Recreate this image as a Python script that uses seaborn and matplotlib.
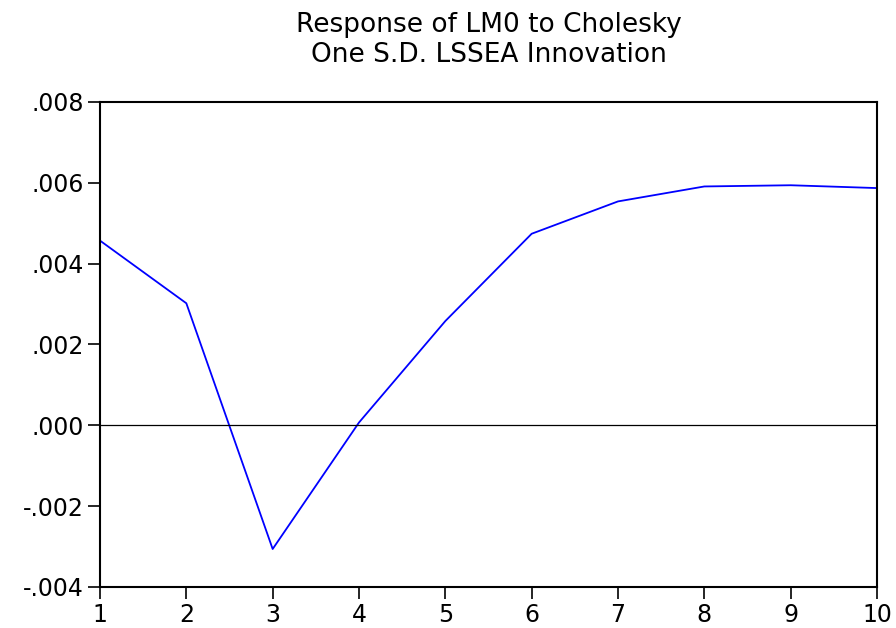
import matplotlib
matplotlib.use("Agg")
import matplotlib.pyplot as plt
import seaborn as sns
import pandas as pd

periods = [1, 2, 3, 4, 5, 6, 7, 8, 9, 10]
response = [0.00457, 0.00302, -0.00306, 0.00007, 0.00258, 0.00474, 0.00554, 0.00591, 0.00594, 0.00587]
yticks = [-0.004, -0.002, 0.000, 0.002, 0.004, 0.006, 0.008]
ytick_labels = ["-.004", "-.002", ".000", ".002", ".004", ".006", ".008"]
title = "Response of LM0 to Cholesky\nOne S.D. LSSEA Innovation"

sns.set_theme(style="ticks")
plt.rcParams["font.family"] = ["DejaVu Sans"]
plt.rcParams["text.color"] = "black"

df = pd.DataFrame({"period": periods, "response": response})

fig = plt.figure(figsize=(8.96, 6.28), dpi=100)
ax = fig.add_axes([0.1116, 0.0653, 0.8672, 0.7723])
sns.lineplot(data=df, x="period", y="response", ax=ax, color="#0000ff", linewidth=1.3)
ax.axhline(0, color="black", linewidth=0.9)

ax.set_xlim(1, 10)
ax.set_ylim(-0.004, 0.008)
ax.set_xticks(periods)
ax.set_xticklabels([str(p) for p in periods])
ax.set_yticks(yticks)
ax.set_yticklabels(ytick_labels)
ax.set_xlabel("")
ax.set_ylabel("")
for s in ax.spines.values():
    s.set_linewidth(1.5)
    s.set_color("black")
ax.tick_params(axis="both", labelsize=17, length=8.5, width=1.2, colors="black", pad=3)
ax.set_title(title, fontsize=19, pad=29, linespacing=1.2, color="black")

fig.savefig("out.png", dpi=100)
